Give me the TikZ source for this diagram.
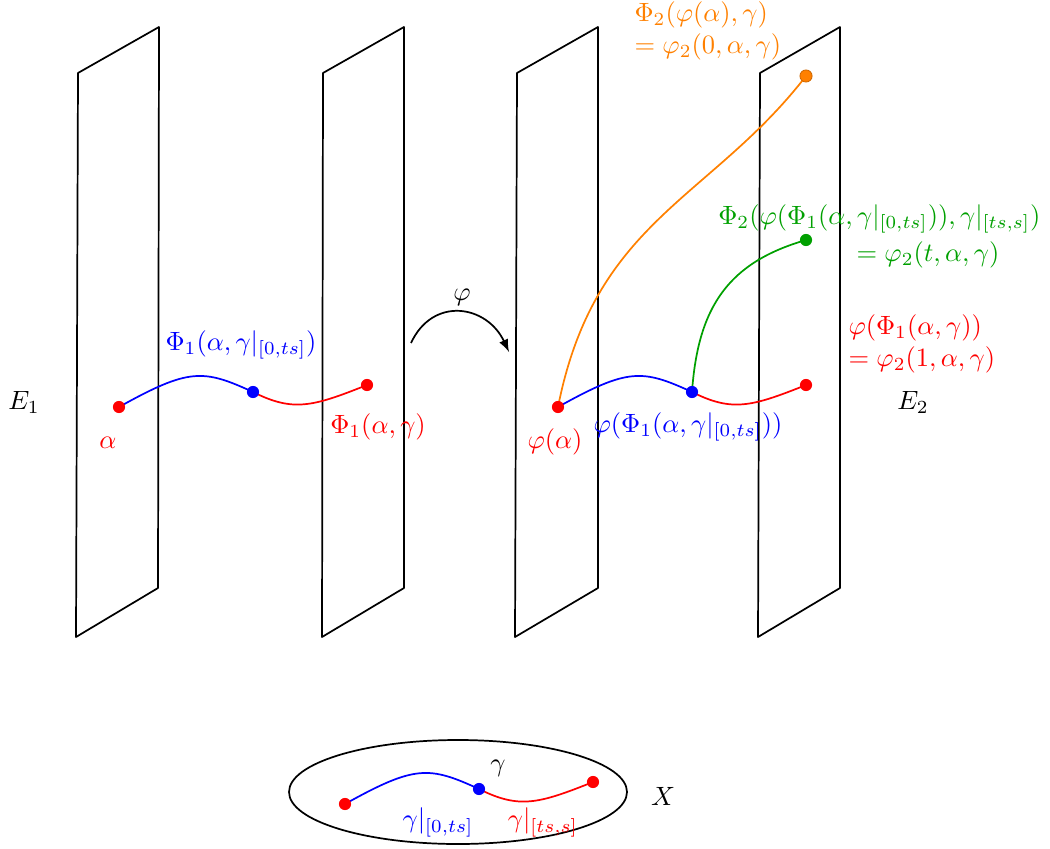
\documentclass[tikz,border=0pt]{standalone}
\usepackage{amsmath}
\definecolor{myorange}{RGB}{255,128,0}
\definecolor{mygreen}{RGB}{0,160,0}
\tikzset{
  plane/.style={draw=black, line width=0.65pt, line join=round},
  curve/.style={line width=0.65pt},
  dot/.style={circle, fill=#1, inner sep=0pt, minimum size=4.6pt},
  lbl/.style={inner sep=0pt},
}
\begin{document}
\begin{tikzpicture}[x=0.378pt,y=-0.378pt]
\useasboundingbox (0,0) rectangle (1050,848);
% planes
\draw[plane] (76,637) -- (78,73) -- (159,27) -- (158,588) -- cycle;
\draw[plane] (322,637) -- (323,73) -- (404,27) -- (404,588) -- cycle;
\draw[plane] (515,637) -- (517,73) -- (598,27) -- (598,588) -- cycle;
\draw[plane] (758,637) -- (760,73) -- (840,27) -- (840,588) -- cycle;
% points
\coordinate (a) at (119,407);
\coordinate (b) at (253,392);
\coordinate (c) at (367,385);
\coordinate (pa) at (558,407);
\coordinate (pb) at (692,392);
\coordinate (pc) at (806,385);
\coordinate (po) at (806,76);
\coordinate (pg) at (806,240);
\coordinate (xa) at (345,804);
\coordinate (xb) at (479,789);
\coordinate (xc) at (593,782);
% curves left
\draw[curve, blue] (a) .. controls +(70,-39) and +(-50,-23) .. (b);
\draw[curve, red] (b) .. controls +(40,20) and +(-55,22) .. (c);
% curves right
\draw[curve, myorange] (pa) .. controls +(37,-187) and +(-96,124) .. (po);
\draw[curve, mygreen] (pb) .. controls +(6,-87) and +(-76,22) .. (pg);
\draw[curve, blue] (pa) .. controls +(70,-39) and +(-50,-23) .. (pb);
\draw[curve, red] (pb) .. controls +(40,20) and +(-55,22) .. (pc);
% bottom
\draw[line width=0.65pt] (458,792) ellipse [x radius=169, y radius=52];
\draw[curve, blue] (xa) .. controls +(70,-39) and +(-50,-23) .. (xb);
\draw[curve, red] (xb) .. controls +(40,20) and +(-55,22) .. (xc);
% dots
\node[dot=red] (na) at (a) {};
\node[dot=blue] (nb) at (b) {};
\node[dot=red] (nc) at (c) {};
\node[dot=red] (npa) at (pa) {};
\node[dot=blue] (npb) at (pb) {};
\node[dot=red] (npc) at (pc) {};
\node[dot=myorange, draw=orange!80!black, line width=0.3pt] (npo) at (po) {};
\node[dot=mygreen] (npg) at (pg) {};
\node[dot=red] (nxa) at (xa) {};
\node[dot=blue] (nxb) at (xb) {};
\node[dot=red] (nxc) at (xc) {};
% phi arrow
\coordinate (ar1) at (411,343);
\coordinate (ar2) at (509,352);
\draw[line width=0.65pt, -latex] (ar1) to[out=65,in=115,looseness=1.35] (ar2);
\node[lbl] (lphi) at (462,297) {$\varphi$};
% labels
\node[lbl] (lE1) at (24,402) {$E_1$};
\node[lbl] (lE2) at (913,402) {$E_2$};
\node[lbl, text=red] (lal) at (108,443) {$\alpha$};
\node[lbl, text=blue] (lphi1) at (241,345) {$\Phi_1(\alpha,\gamma|_{[0,ts]})$};
\node[lbl, text=red] (lphi1g) at (378,427) {$\Phi_1(\alpha,\gamma)$};
\node[lbl, text=red] (lpal) at (555,442) {$\varphi(\alpha)$};
\node[lbl, text=blue] (lpphi) at (688,427) {$\varphi(\Phi_1(\alpha,\gamma|_{[0,ts]}))$};
\node[lbl, text=red, anchor=west] (lr1) at (848,328) {$\varphi(\Phi_1(\alpha,\gamma))$};
\node[lbl, text=red, anchor=west] (lr2) at (848,360) {$=\varphi_2(1,\alpha,\gamma)$};
\node[lbl, text=mygreen, anchor=east] (lg1) at (1041,219) {$\Phi_2(\varphi(\Phi_1(\alpha,\gamma|_{[0,ts]})),\gamma|_{[ts,s]})$};
\node[lbl, text=mygreen] (lg2) at (928,255) {$=\varphi_2(t,\alpha,\gamma)$};
\node[lbl, text=myorange, anchor=west] (lo1) at (634,15) {$\Phi_2(\varphi(\alpha),\gamma)$};
\node[lbl, text=myorange, anchor=west] (lo2) at (634,47) {$=\varphi_2(0,\alpha,\gamma)$};
\node[lbl] (lgam) at (498,768) {$\gamma$};
\node[lbl, text=blue] (lg0) at (438,822) {$\gamma|_{[0,ts]}$};
\node[lbl, text=red] (lgts) at (543,822) {$\gamma|_{[ts,s]}$};
\node[lbl] (lX) at (663,796) {$X$};
\end{tikzpicture}
\end{document}
